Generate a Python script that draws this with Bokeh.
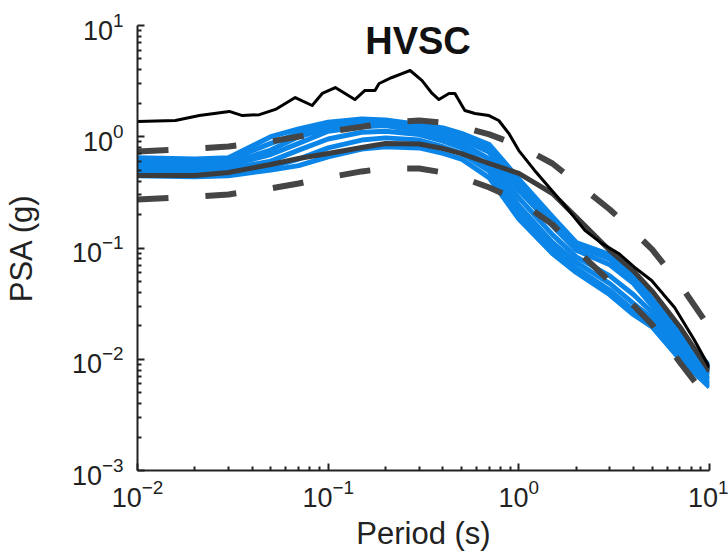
from bokeh.plotting import figure
from bokeh.models import Label, FixedTicker
from bokeh.embed import file_html
from bokeh.resources import INLINE

# ---------------- data ----------------
periods = [0.01, 0.02, 0.03, 0.05, 0.07, 0.1, 0.15, 0.2, 0.3, 0.4, 0.5,
           0.7, 1.0, 1.5, 2.0, 3.0, 4.0, 5.0, 7.0, 10.0]

median_psa = [0.449, 0.449, 0.477, 0.564, 0.637, 0.706, 0.80, 0.869, 0.86, 0.783, 0.706,
              0.575, 0.468, 0.309, 0.19, 0.095, 0.062, 0.041, 0.0195, 0.0078]
plus_sigma_psa = [0.736, 0.783, 0.818, 0.906, 1.005, 1.11, 1.23, 1.34, 1.40, 1.34, 1.23,
                  1.05, 0.834, 0.575, 0.388, 0.222, 0.141, 0.097, 0.047, 0.0193]
minus_sigma_psa = [0.273, 0.290, 0.303, 0.343, 0.380, 0.431, 0.488, 0.518, 0.518, 0.478, 0.431,
                   0.350, 0.267, 0.163, 0.097, 0.050, 0.0304, 0.0205, 0.00935, 0.00425]

record_period = [0.01, 0.0158, 0.0211, 0.0303, 0.0355, 0.0436, 0.0529, 0.0672, 0.0824,
                 0.0931, 0.109, 0.138, 0.156, 0.176, 0.185, 0.216, 0.244, 0.269, 0.310,
                 0.351, 0.381, 0.430, 0.462, 0.521, 0.589, 0.697, 0.785, 0.887, 1.0,
                 1.21, 1.49, 1.83, 2.22, 2.72, 3.34, 4.05, 4.97, 6.56, 8.34, 10.0]
record_psa = [1.37, 1.40, 1.55, 1.69, 1.55, 1.58, 1.76, 2.25, 1.91,
              2.45, 2.77, 2.16, 2.61, 2.61, 3.01, 3.41, 3.70, 3.94, 3.21,
              2.45, 2.16, 2.45, 2.45, 1.72, 1.62, 1.55, 1.40, 1.07, 0.751,
              0.498, 0.329, 0.217, 0.144, 0.110, 0.0893, 0.0668, 0.0511, 0.0292, 0.0148, 0.00844]

sim_1 = [0.646, 0.631, 0.646, 1.0, 1.175, 1.349, 1.445, 1.413, 1.288, 1.202, 1.072,
         0.851, 0.417, 0.191, 0.112, 0.0871, 0.0589, 0.0347, 0.0174, 0.00871]
sim_2 = [0.603, 0.589, 0.617, 0.871, 1.072, 1.259, 1.380, 1.318, 1.175, 1.072, 0.955,
         0.724, 0.331, 0.158, 0.0955, 0.0708, 0.0479, 0.0302, 0.0151, 0.00794]
sim_3 = [0.537, 0.525, 0.550, 0.692, 0.871, 1.122, 1.230, 1.259, 1.122, 1.0, 0.871,
         0.631, 0.282, 0.132, 0.0832, 0.0562, 0.0380, 0.0263, 0.0132, 0.00724]
sim_4 = [0.501, 0.490, 0.513, 0.603, 0.759, 0.955, 1.096, 1.122, 1.047, 0.912, 0.794,
         0.550, 0.240, 0.112, 0.0741, 0.0479, 0.0316, 0.0234, 0.0120, 0.00661]
sim_5 = [0.468, 0.457, 0.479, 0.537, 0.631, 0.794, 0.933, 0.977, 0.933, 0.813, 0.708,
         0.490, 0.209, 0.100, 0.0661, 0.0417, 0.0275, 0.0209, 0.0110, 0.00603]
sim_6 = [0.447, 0.437, 0.447, 0.501, 0.550, 0.661, 0.776, 0.813, 0.794, 0.708, 0.631,
         0.427, 0.182, 0.0891, 0.0603, 0.0380, 0.0251, 0.0195, 0.0100, 0.00562]
sim_7 = [0.575, 0.562, 0.575, 0.759, 1.0, 1.202, 1.318, 1.349, 1.230, 1.122, 1.023,
         0.794, 0.372, 0.174, 0.105, 0.0794, 0.0525, 0.0316, 0.0158, 0.00832]
simulations = [sim_1, sim_2, sim_3, sim_4, sim_5, sim_6, sim_7]

x_ticks = [0.01, 0.1, 1, 10]
y_ticks = [0.001, 0.01, 0.1, 1, 10]
title_text = "HVSC"

# minor ticks at 2..9 times each decade
x_minor = [m * d for d in x_ticks[:-1] for m in range(2, 10)]
y_minor = [m * d for d in y_ticks[:-1] for m in range(2, 10)]

# ---------------- figure ----------------
FONT = "Liberation Sans"
p = figure(width=728, height=559, x_axis_type="log", y_axis_type="log",
           x_range=(0.01, 10), y_range=(0.001, 10),
           output_backend="svg", toolbar_location=None,
           min_border_left=135, min_border_right=19,
           min_border_top=25, min_border_bottom=89)
p.outline_line_color = None
p.grid.visible = False
p.background_fill_color = "white"
p.border_fill_color = "white"

blue = "#0b86e8"
for sim in simulations:
    p.line(periods, sim, line_color=blue, line_width=5, line_join="round")

p.line(periods, median_psa, line_color="#3c3c3c", line_width=5, line_join="round")
p.line(periods, plus_sigma_psa, line_color="#454545", line_width=6, line_dash="31 37")
p.line(periods, minus_sigma_psa, line_color="#454545", line_width=6, line_dash="31 37")
p.line(record_period, record_psa, line_color="black", line_width=3, line_join="round")

for ax in (p.xaxis[0], p.yaxis[0]):
    ax.axis_line_width = 2
    ax.axis_line_color = "#222222"
    ax.major_tick_in = 7
    ax.major_tick_out = 0
    ax.minor_tick_in = 4
    ax.minor_tick_out = 0
    ax.major_tick_line_width = 2
    ax.minor_tick_line_width = 2
    ax.major_tick_line_color = "#222222"
    ax.minor_tick_line_color = "#222222"
    ax.major_label_text_font = FONT
    ax.major_label_text_font_size = "27px"
    ax.major_label_text_color = "#222222"
    ax.axis_label_text_font = FONT
    ax.axis_label_text_font_size = "31px"
    ax.axis_label_text_font_style = "normal"
    ax.axis_label_text_color = "#222222"

p.xaxis.ticker = FixedTicker(ticks=x_ticks, minor_ticks=x_minor)
p.yaxis.ticker = FixedTicker(ticks=y_ticks, minor_ticks=y_minor)
p.xaxis.axis_label = "Period (s)"
p.yaxis.axis_label = "PSA (g)"
p.xaxis.major_label_standoff = 8
p.xaxis.axis_label_standoff = 6
p.yaxis.major_label_standoff = 14
p.yaxis.axis_label_standoff = 30

p.add_layout(Label(x=0.296, y=7.3, text=title_text, text_align="center",
                   text_baseline="middle", text_font=FONT, text_font_size="38px",
                   text_font_style="bold", text_color="#111111"))

open("out.html", "w").write(file_html(p, INLINE))
